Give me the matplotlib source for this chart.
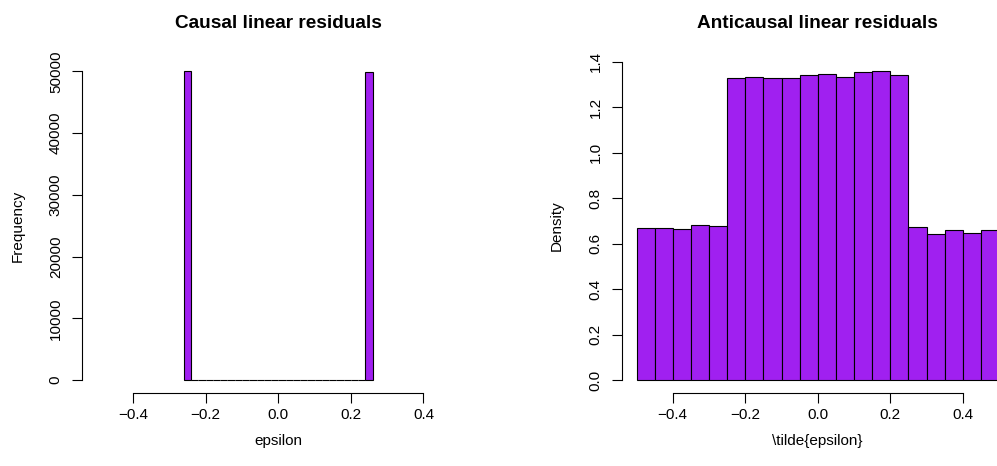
import matplotlib
matplotlib.use("Agg")
import matplotlib.pyplot as plt
import numpy as np

plt.rcParams['font.family'] = ['Liberation Sans', 'DejaVu Sans']

# ---- data ----
causal_edges = [-0.26, -0.24, -0.22, -0.20, -0.18, -0.16, -0.14, -0.12, -0.10,
                -0.08, -0.06, -0.04, -0.02, 0.00, 0.02, 0.04, 0.06, 0.08, 0.10,
                0.12, 0.14, 0.16, 0.18, 0.20, 0.22, 0.24, 0.26]
causal_counts = [50080, 0, 0, 0, 0, 0, 0, 0, 0, 0, 0, 0, 0,
                 0, 0, 0, 0, 0, 0, 0, 0, 0, 0, 0, 0, 49920]

anti_edges = [-0.50, -0.45, -0.40, -0.35, -0.30, -0.25, -0.20, -0.15, -0.10,
              -0.05, 0.00, 0.05, 0.10, 0.15, 0.20, 0.25, 0.30, 0.35, 0.40,
              0.45, 0.50]
anti_density = [0.668, 0.667, 0.664, 0.680, 0.676,
                1.327, 1.331, 1.328, 1.327, 1.340, 1.347, 1.332, 1.353, 1.360, 1.340,
                0.673, 0.641, 0.661, 0.648, 0.660]

x_ticks = [-0.4, -0.2, 0.0, 0.2, 0.4]
x_ticklabels = ["\u22120.4", "\u22120.2", "0.0", "0.2", "0.4"]
causal_yticks = [0, 10000, 20000, 30000, 40000, 50000]
anti_yticks = [0.0, 0.2, 0.4, 0.6, 0.8, 1.0, 1.2, 1.4]

titles = ["Causal linear residuals", "Anticausal linear residuals"]
xlabels = ["epsilon", "\\tilde{epsilon}"]
ylabels = ["Frequency", "Density"]

FILL = "#A020F0"
W, H = 997, 466
fig = plt.figure(figsize=(W / 100, H / 100), dpi=100)

def axes_px(x0, x1, y0, y1):
    return fig.add_axes([x0 / W, (H - y1) / H, (x1 - x0) / W, (y1 - y0) / H])

ax1 = axes_px(82.3, 474.3, 58.5, 392.5)
ax2 = axes_px(622.0, 1013.5, 58.5, 392.5)

def draw(ax, edges, heights, yticks, ytl, title, xl, yl):
    e = np.array(edges)
    h = np.array(heights, dtype=float)
    ax.bar(e[:-1], h, width=np.diff(e), align='edge', color=FILL,
           edgecolor='black', linewidth=0.8)
    ax.set_xlim(-0.54, 0.54)
    top = h.max()
    ax.set_ylim(-0.04 * top, 1.04 * top)
    for s in ['top', 'right']:
        ax.spines[s].set_visible(False)
    ax.spines['left'].set_bounds(yticks[0], yticks[-1])
    ax.spines['bottom'].set_bounds(x_ticks[0], x_ticks[-1])
    for s in ['left', 'bottom']:
        ax.spines[s].set_linewidth(0.8)
    ax.set_xticks(x_ticks)
    ax.set_xticklabels(x_ticklabels)
    ax.set_yticks(yticks)
    ax.set_yticklabels(ytl, rotation=90, va='center')
    ax.tick_params(axis='both', direction='out', length=7, width=0.8,
                   labelsize=11)
    ax.tick_params(axis='x', pad=4.5)
    ax.tick_params(axis='y', pad=7.0)
    ax.set_title(title, fontsize=13.7, fontweight='bold', y=1 + 31 / 334, pad=0)
    ax.set_xlabel(xl, fontsize=11, va='center')
    ax.xaxis.set_label_coords(0.5, -48 / 334)
    ax.set_ylabel(yl, fontsize=11, va='center')
    ax.yaxis.set_label_coords(-65 / 392, 0.5)

draw(ax1, causal_edges, causal_counts, causal_yticks,
     [str(v) for v in causal_yticks], titles[0], xlabels[0], ylabels[0])
draw(ax2, anti_edges, anti_density, anti_yticks,
     ["%.1f" % v for v in anti_yticks], titles[1], xlabels[1], ylabels[1])

fig.savefig("out.png", dpi=100)
